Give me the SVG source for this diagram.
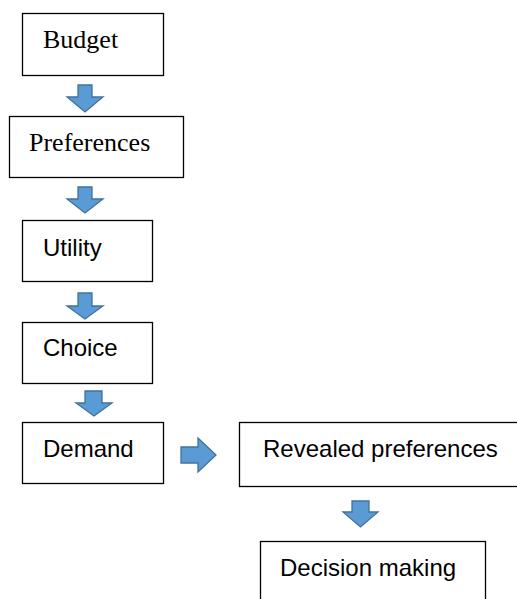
<svg xmlns="http://www.w3.org/2000/svg" width="517" height="599" viewBox="0 0 517 599">
<style>
.box{fill:#fff;stroke:#000;stroke-width:1.3}
.serif{font-family:"Liberation Serif","Times New Roman",serif;font-size:26px;fill:#000}
.sans{font-family:"Liberation Sans",Arial,sans-serif;font-size:24px;fill:#000}
.arr{fill:#5B9BD5;stroke:#41719C;stroke-width:1.3;stroke-linejoin:miter}
</style>
<rect width="517" height="599" fill="#fff"/>
<g id="budget"><rect class="box" x="22.5" y="13.5" width="141" height="62"/><text class="serif" x="43" y="48">Budget</text></g>
<g id="preferences"><rect class="box" x="9.5" y="116.5" width="174" height="61"/><text class="serif" x="29" y="151">Preferences</text></g>
<g id="utility"><rect class="box" x="22.5" y="220.5" width="130" height="61"/><text class="sans" x="43" y="256">Utility</text></g>
<g id="choice"><rect class="box" x="22.5" y="322.5" width="130" height="61"/><text class="sans" x="43" y="356">Choice</text></g>
<g id="demand"><rect class="box" x="22.5" y="422.5" width="141" height="61"/><text class="sans" x="43" y="457">Demand</text></g>
<g id="revealed"><rect class="box" x="239.5" y="422.5" width="290" height="64"/><text class="sans" x="263" y="457">Revealed preferences</text></g>
<g id="decision"><rect class="box" x="260.5" y="541.5" width="225" height="70"/><text class="sans" x="280" y="576">Decision making</text></g>
<g id="connectors">
<polygon class="arr" points="78,85 92,85 92,97 103,97 85,112 67,97 78,97"/>
<polygon class="arr" points="78,187 92,187 92,199 103,199 85,213 67,199 78,199"/>
<polygon class="arr" points="78,293 92,293 92,306 103,306 85,319 67,306 78,306"/>
<polygon class="arr" points="85,391 102,391 102,403 112,403 94,416 76,403 85,403"/>
<polygon class="arr" points="181,447 198,447 198,438 216,455 198,472 198,463 181,463"/>
<polygon class="arr" points="352,501 369,501 369,512 378,512 360.5,527 343,512 352,512"/>
</g>
</svg>
